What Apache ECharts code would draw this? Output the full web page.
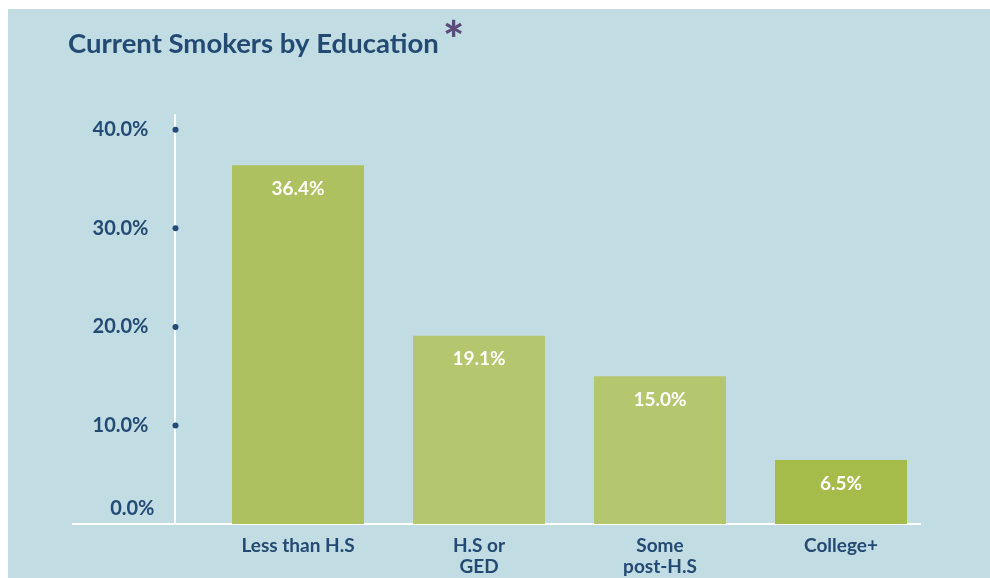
<!DOCTYPE html>
<html>
<head>
<meta charset="utf-8">
<style>
  html, body { margin: 0; padding: 0; background: #ffffff; }
  #chart { width: 990px; height: 578px; }
</style>
<script src="https://cdn.jsdelivr.net/npm/echarts@6/dist/echarts.min.js"></script>
</head>
<body>
<div id="chart"></div>
<script>
const categories = ['Less than H.S', 'H.S or\nGED', 'Some\npost-H.S', 'College+'];
const values = [36.4, 19.1, 15.0, 6.5];
const barColors = ['#adc160', '#b4c66e', '#b4c66e', '#a5bb4a'];
const yTicks = [0, 10, 20, 30, 40];

const navy = '#234a73';
const fontFamily = 'Lato, "Noto Sans", sans-serif';

const chart = echarts.init(document.getElementById('chart'), null, { renderer: 'canvas' });

const option = {
  backgroundColor: '#ffffff',
  animation: false,
  graphic: [
    { type: 'rect', z: -10, shape: { x: 8, y: 9, width: 990, height: 578 }, style: { fill: '#c2dce3' } },
    { type: 'line', z: 1, shape: { x1: 72, y1: 524, x2: 921, y2: 524 }, style: { stroke: '#ffffff', lineWidth: 2 } },
    { type: 'text', left: 68, top: 30, style: { text: 'Current Smokers by Education', fill: navy, font: 'bold 27.5px ' + fontFamily } },
    { type: 'text', left: 443, top: 17, style: { text: '*', fill: '#5b4b7c', font: '900 50px ' + fontFamily } }
  ],
  grid: { left: 207.5, right: 58.5, top: 115, bottom: 54, containLabel: false },
  xAxis: {
    type: 'category',
    data: categories,
    axisLine: { show: false },
    axisTick: { show: false },
    axisLabel: {
      color: navy, fontFamily: fontFamily, fontWeight: 'bold', fontSize: 19,
      lineHeight: 21, margin: 11, interval: 0
    }
  },
  yAxis: {
    type: 'value',
    min: 0, max: 41.5, interval: 10,
    offset: 32.5,
    splitLine: { show: false },
    axisTick: { show: false },
    axisLine: { show: true, lineStyle: { color: '#ffffff', width: 2 } },
    axisLabel: {
      margin: -3.5,
      formatter: function (v) {
        if (yTicks.indexOf(v) < 0) return '';
        if (v === 0) return '{z|' + v.toFixed(1) + '%}{sp|}';
        return '{a|' + v.toFixed(1) + '%}{sp|}{dot|}';
      },
      rich: {
        a: { color: navy, fontFamily: fontFamily, fontWeight: 'bold', fontSize: 20 },
        z: { color: navy, fontFamily: fontFamily, fontWeight: 'bold', fontSize: 20, padding: [0, 0, 30, 0] },
        sp: { width: 24 },
        dot: { width: 6, height: 6, backgroundColor: navy, borderRadius: 3 }
      }
    }
  },
  series: [{
    type: 'bar',
    data: values.map((v, i) => ({ value: v, itemStyle: { color: barColors[i] } })),
    barWidth: 132,
    z: 2,
    label: {
      show: true, position: 'insideTop', distance: 14,
      color: '#ffffff', fontFamily: fontFamily, fontWeight: 'bold', fontSize: 19,
      formatter: p => p.value.toFixed(1) + '%'
    }
  }]
};
chart.setOption(option);
</script>
</body>
</html>
